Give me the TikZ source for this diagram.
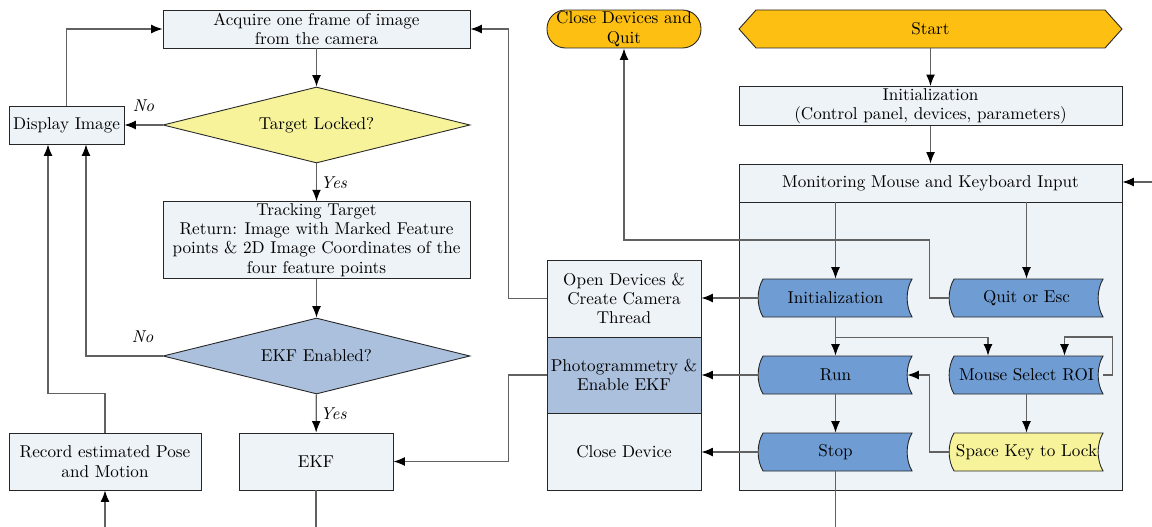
\documentclass[tikz,border=0pt]{standalone}
\usepackage{tikz}
\usetikzlibrary{arrows.meta,shapes.geometric}

\definecolor{paleblue}{HTML}{EEF3F8}
\definecolor{tapeblue}{HTML}{6F9CD3}
\definecolor{ekfblue}{HTML}{ABC0DC}
\definecolor{paleyellow}{HTML}{F7F39B}
\definecolor{amber}{HTML}{FCBF12}

\tikzset{
  base/.style={draw=black!85, line width=0.5pt, align=center, inner sep=1pt,
    font=\fontsize{9.75}{11}\selectfont},
  lightbox/.style={base, fill=paleblue, rectangle},
  decision/.style={base, diamond, aspect=4, minimum width=6.14cm, minimum height=1.52cm},
  conn/.style={draw=black!62, line width=0.65pt, -{Latex[length=6.5pt,width=5pt,color=black]}},
  plainline/.style={draw=black!62, line width=0.65pt},
  lbl/.style={font=\fontsize{9.75}{11}\selectfont\itshape, inner sep=1pt},
  tapeedge/.style={draw=black!85, line width=0.5pt},
}

% banner-like key node: convex left side, concave right side
\newcommand{\tapenode}[5]{%
  \filldraw[tapeedge, fill=#4]
    ({#2-72.5},{#3-19}) -- ({#2+76.5},{#3-19})
    .. controls ({#2+70},{#3-8}) and ({#2+70},{#3+8}) .. ({#2+76.5},{#3+19})
    -- ({#2-72.5},{#3+19})
    .. controls ({#2-79},{#3+8}) and ({#2-79},{#3-8}) .. ({#2-72.5},{#3-19}) -- cycle;
  \node[minimum width=3.06cm, minimum height=0.76cm, inner sep=0pt,
        font=\fontsize{9.75}{11}\selectfont] (#1) at (#2,#3) {#5};%
}

\begin{document}
\begin{tikzpicture}[x=0.02cm, y=-0.02cm]
\useasboundingbox (0,0) rectangle (1152,527);

% ---------- left column: image loop ----------
\node[lightbox, minimum width=6.14cm, minimum height=0.76cm] (acq) at (316.5,29)
  {Acquire one frame of image\\from the camera};
\node[decision, fill=paleyellow] (tl) at (316.5,125) {Target Locked?};
\node[lightbox, minimum width=2.3cm, minimum height=0.76cm] (disp) at (66.5,125) {Display Image};
\node[lightbox, minimum width=6.14cm, minimum height=1.52cm] (track) at (316.5,240)
  {Tracking Target\\Return: Image with Marked Feature\\points \& 2D Image Coordinates of the\\four feature points};
\node[decision, fill=ekfblue] (ekfq) at (316.5,356) {EKF Enabled?};
\node[lightbox, minimum width=3.08cm, minimum height=1.14cm] (ekf) at (316,461.5) {EKF};
\node[lightbox, minimum width=3.84cm, minimum height=1.14cm] (rec) at (105,461.5)
  {Record estimated Pose\\and Motion};

% ---------- middle column: device actions ----------
\node[base, fill=amber, rectangle, rounded corners=0.37cm, minimum width=3.08cm,
      minimum height=0.76cm, inner sep=0pt] (quit) at (624,29) {Close Devices and\\Quit};
\node[lightbox, minimum width=3.08cm, minimum height=1.54cm] (opendev) at (624,298.5)
  {Open Devices \&\\Create Camera\\Thread};
\node[lightbox, fill=ekfblue, minimum width=3.08cm, minimum height=1.52cm] (photo) at (624,375)
  {Photogrammetry \&\\Enable EKF};
\node[lightbox, minimum width=3.08cm, minimum height=1.54cm] (closedev) at (624,451.5)
  {Close Device};

% ---------- right column: control panel ----------
\filldraw[draw=black!85, line width=0.5pt, fill=amber]
  (739,29) -- (756,10) -- (1105,10) -- (1122,29) -- (1105,48) -- (756,48) -- cycle;
\node[minimum width=7.66cm, minimum height=0.76cm, inner sep=0pt,
      font=\fontsize{9.75}{11}\selectfont] (start) at (930.5,29) {Start};
\node[lightbox, minimum width=7.66cm, minimum height=0.76cm] (init) at (930.5,106)
  {Initialization\\(Control panel, devices, parameters)};
\node[lightbox, minimum width=7.66cm, minimum height=6.52cm] (panel) at (930.5,327) {};
\node[lightbox, minimum width=7.66cm, minimum height=0.76cm] (mon) at (930.5,183)
  {Monitoring Mouse and Keyboard Input};

\tapenode{tinit}{835.5}{298}{tapeblue}{Initialization}
\tapenode{tquit}{1026.5}{298}{tapeblue}{Quit or Esc}
\tapenode{trun}{835.5}{375}{tapeblue}{Run}
\tapenode{troi}{1026.5}{375}{tapeblue}{Mouse Select ROI}
\tapenode{tstop}{835.5}{452}{tapeblue}{Stop}
\tapenode{tspace}{1026.5}{452}{paleyellow}{Space Key to Lock}

% ---------- free ends ----------
\coordinate (rin) at (1152,182);
\coordinate (sbot) at (835.5,527);
\coordinate (ebot) at (316,527);
\coordinate (rbot) at (105,527);

% ---------- connectors: control panel ----------
\draw[conn] (start) -- (init);
\draw[conn] (init) -- (mon);
\draw[conn] (rin) -- (rin -| mon.east);
\draw[conn] (mon.south -| tinit.north) -- (tinit.north);
\draw[conn] (mon.south -| tquit.north) -- (tquit.north);
\draw[conn] (tquit.west) -- ++(-20,0) -- ++(0,-58) -| (quit.south);
\draw[conn] (tinit.west) -- (tinit.west -| opendev.east);
\draw[conn] (tinit.south) -- (trun.north);
\draw[conn] (tinit.south) ++(0,20) -| ([xshift=-0.77cm]troi.north);
\draw[conn] (troi.east) -- ++(9,0) -- ++(0,-38) -| ([xshift=0.76cm]troi.north);
\draw[conn] (troi) -- (tspace);
\draw[conn] (tspace.west) -- ++(-20,0) |- ([xshift=-0.1cm]trun.east);
\draw[conn] (trun) -- (tstop);
\draw[conn] (trun.west) -- (trun.west -| photo.east);
\draw[conn] (tstop.west) -- (tstop.west -| closedev.east);
\draw[plainline] (tstop) -- (sbot);

% ---------- connectors: device actions ----------
\draw[conn] (opendev.west) -- ++(-38,0) |- (acq.east);
\draw[conn] (photo.west) -- ++(-38,0) |- (ekf.east);

% ---------- connectors: image loop ----------
\draw[conn] (acq) -- (tl);
\draw[conn] (tl.west) -- node[lbl, above=0.22cm]{No} (disp.east);
\draw[conn] (tl) -- node[lbl, right=1pt]{Yes} (track);
\draw[conn] (track) -- (ekfq);
\draw[conn] (ekfq.west) -| node[lbl, above=0.22cm, pos=0.13]{No} ([xshift=0.39cm]disp.south);
\draw[conn] (ekfq) -- node[lbl, right=1pt]{Yes} (ekf);
\draw[plainline] (ekf) -- (ebot);
\draw[conn] (rbot) -- (rec);
\draw[conn] (rec.north) -- ++(0,-39) -| ([xshift=-0.37cm]disp.south);
\draw[conn] (disp.north) |- (acq.west);
\end{tikzpicture}
\end{document}
